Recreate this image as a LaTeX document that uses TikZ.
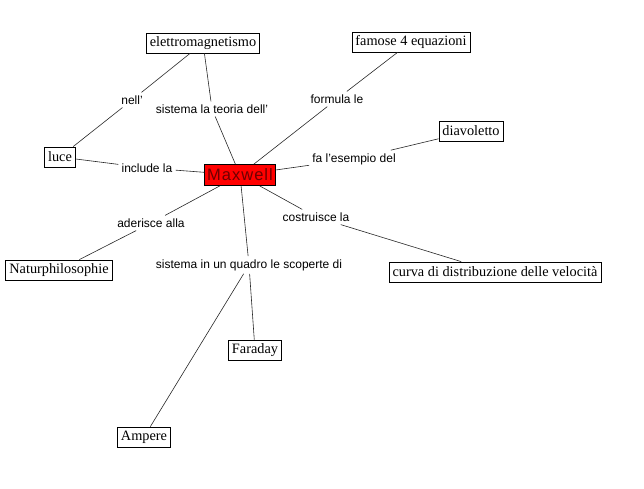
\documentclass[tikz,border=0pt]{standalone}
\usepackage{fontspec}
\setmainfont{Liberation Serif}
\setsansfont{Liberation Sans}
\usetikzlibrary{positioning}
\definecolor{mxred}{RGB}{255,0,0}
\definecolor{mxtext}{RGB}{110,0,0}
\tikzset{
  concept/.style={draw,thick,rectangle,fill=white,inner xsep=3.5pt,inner ysep=2pt,minimum height=20pt,font=\fontsize{14.3}{16}\selectfont},
  central/.style={concept,fill=mxred,text=mxtext,inner xsep=2.5pt,minimum height=21pt,font=\sffamily\fontsize{16.5}{18}\selectfont\addfontfeature{LetterSpace=6}},
  link/.style={inner sep=3pt,font=\sffamily\fontsize{12}{14}\selectfont},
  edge/.style={semithick,draw=black!85}
}
\begin{document}
\begin{tikzpicture}[x=1pt,y=-1pt]
  \useasboundingbox (0,0) rectangle (644,489);
  % concepts
  \node[central] (maxwell) at (240,175) {Maxwell};
  \node[concept] (elettro) at (203,43) {elettromagnetismo};
  \node[concept] (famose) at (411,42) {famose 4 equazioni};
  \node[concept] (luce) at (60,157) {luce};
  \node[concept] (diavol) at (471,131) {diavoletto};
  \node[concept] (natur) at (59,270) {Naturphilosophie};
  \node[concept] (curva) at (495,272) {curva di distribuzione delle velocità};
  \node[concept] (faraday) at (255,350) {Faraday};
  \node[concept] (ampere) at (144,437) {Ampere};
  % linking phrases
  \node[link] (nell) at (132,100) {nell'};
  \node[link] (teoria) at (212,109) {sistema la teoria dell'};
  \node[link] (formula) at (337,99) {formula le};
  \node[link] (include) at (147,168) {include la};
  \node[link] (esempio) at (354,159) {fa l'esempio del};
  \node[link] (costru) at (316,217) {costruisce la};
  \node[link] (aderisce) at (151,223) {aderisce alla};
  \node[link] (quadro) at (249,265) {sistema in un quadro le scoperte di};

  \draw[edge] (elettro) -- (nell);
  \draw[edge] (nell) -- (luce);
  \draw[edge] (maxwell) -- (teoria);
  \draw[edge] (teoria) -- (elettro);
  \draw[edge] (maxwell) -- (formula);
  \draw[edge] (formula) -- (famose);
  \draw[edge] (maxwell) -- (include);
  \draw[edge] (include) -- (luce);
  \draw[edge] (maxwell) -- (esempio);
  \draw[edge] (esempio) -- (diavol);
  \draw[edge] (maxwell) -- (costru);
  \draw[edge] (costru) -- (curva);
  \draw[edge] (maxwell) -- (aderisce);
  \draw[edge] (aderisce) -- (natur);
  \draw[edge] (maxwell) -- (quadro);
  \draw[edge] (quadro) -- (faraday);
  \draw[edge] (quadro) -- (ampere);
\end{tikzpicture}
\end{document}
